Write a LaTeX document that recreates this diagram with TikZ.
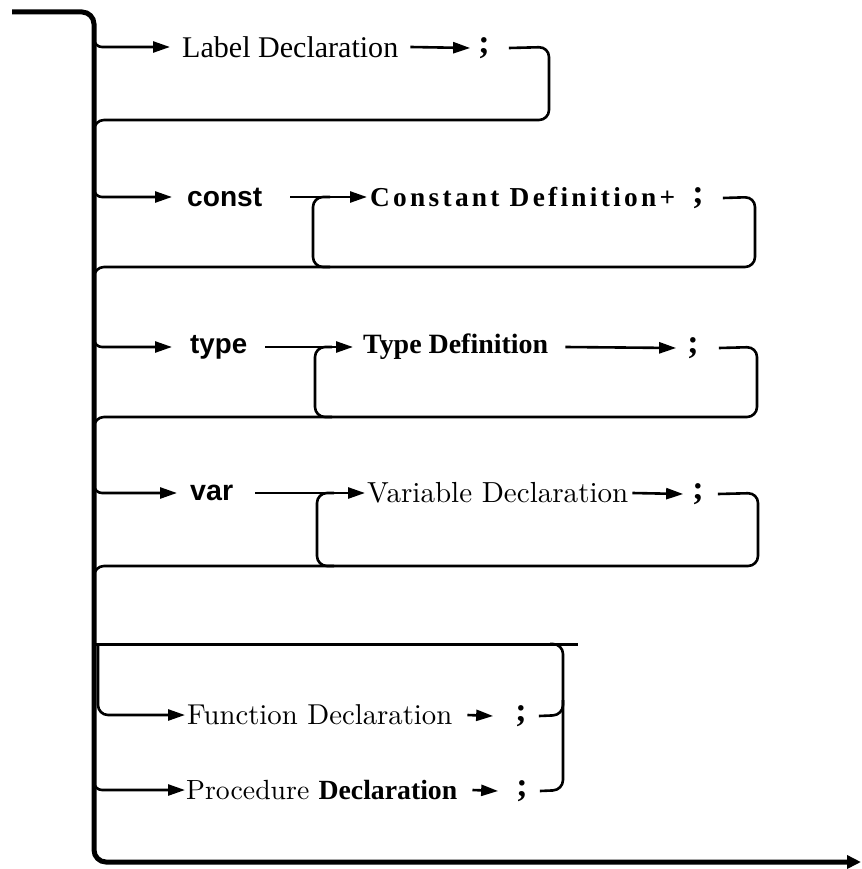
\documentclass[tikz,border=0pt]{standalone}
\usepackage{fontspec}
\usepackage{graphicx}
\usetikzlibrary{arrows.meta}
\newfontfamily\tms{Liberation Serif}
\newfontfamily\tmsls[LetterSpace=12]{Liberation Serif}
\newfontfamily\hlv{Liberation Sans}
\newcommand\fitw[2]{\resizebox{#1pt}{!}{#2}}
\tikzset{
  lbl/.style={inner sep=0pt, anchor=west},
  semi/.style={inner sep=0pt, font=\tms\bfseries\fontsize{34}{36}\selectfont},
  ln/.style={line width=2.6pt, rounded corners=10pt},
  arr/.style={line width=2.6pt, -{Triangle[length=17pt,width=11pt]}},
  mainln/.style={line width=5pt, rounded corners=12pt},
}
\begin{document}
\begin{tikzpicture}[x=1pt,y=-1pt]
\useasboundingbox (0,0) rectangle (861,869);

% ---- Row 1: Label Declaration
\node[lbl] (ld) at (182,47) {\fitw{216}{\tms Label Declaration}};
\node[semi] (s1) at (484,48) {;};
\draw[arr, rounded corners=8pt] (94,35) |- ([xshift=-12pt]ld.west);
\draw[arr] ([xshift=12pt]ld.east) -- ([xshift=-8pt]s1.west);
\draw[ln] ([xshift=19pt]s1.east) -- (549,47) -- (549,120) -- (94,120) -- (94,135);

% ---- Row 2: const
\node[lbl] (kc) at (187,197) {\fitw{75}{\hlv\bfseries const}};
\node[lbl] (cd) at (370,197) {\fitw{305}{\tmsls\bfseries Constant Definition+}};
\node[semi] (s2) at (698,198) {;};
\draw[arr, rounded corners=8pt] (94,185) |- ([xshift=-15pt]kc.west);
\draw[arr] ([xshift=28pt]kc.east) -- ([xshift=-3pt]cd.west);
\draw[ln] ([xshift=19pt]s2.east) -- (755,197) -- (755,267) -- (94,267) -- (94,280);
\draw[ln] (330,267) -- (313,267) -- (313,197) -- (330,197);

% ---- Row 3: type
\node[lbl] (kt) at (190,347) {\fitw{57}{\hlv\bfseries type}};
\node[lbl] (td) at (363,347) {\fitw{185}{\tms\bfseries Type Definition}};
\node[semi] (s3) at (693,348) {;};
\draw[arr, rounded corners=8pt] (94,335) |- ([xshift=-18pt]kt.west);
\draw[arr] ([xshift=18pt]kt.east) -- ([xshift=-10pt]td.west);
\draw[arr] ([xshift=17pt]td.east) -- ([xshift=-11pt]s3.west);
\draw[ln] ([xshift=20pt]s3.east) -- (757,347) -- (757,417) -- (94,417) -- (94,430);
\draw[ln] (332,417) -- (315,417) -- (315,347) -- (332,347);

% ---- Row 4: var
\node[lbl] (kv) at (190,493) {\fitw{43}{\hlv\bfseries var}};
\node[lbl] (vd) at (367,493) {\fitw{261}{Variable Declaration}};
\node[semi] (s4) at (698,494) {;};
\draw[arr, rounded corners=8pt] (94,481) |- ([xshift=-13pt]kv.west);
\draw[arr] ([xshift=22pt]kv.east) -- ([xshift=-2pt]vd.west);
\draw[arr] ([xshift=4pt]vd.east) -- ([xshift=-9pt]s4.west);
\draw[ln] ([xshift=14pt]s4.east) -- (758,493) -- (758,566) -- (94,566) -- (94,580);
\draw[ln] (334,566) -- (317,566) -- (317,493) -- (334,493);

% ---- Row 5: Function / Procedure
\node[lbl] (fd) at (187,715) {\fitw{265}{Function Declaration}};
\node[lbl] (pd) at (186,790) {\fitw{271}{Procedure {\tms\bfseries Declaration}}};
\node[semi] (s5) at (521,716) {;};
\node[semi] (s6) at (522,791) {;};
\draw[line width=3pt] (94,644) -- (578,644);
\draw[arr, rounded corners=10pt] (98,644) |- ([xshift=-2pt]fd.west);
\draw[arr, rounded corners=8pt] (94,778) |- ([xshift=-1pt]pd.west);
\draw[arr] ([xshift=15pt]fd.east) -- ([xshift=-22pt]s5.west);
\draw[arr] ([xshift=15pt]pd.east) -- ([xshift=-18pt]s6.west);
\draw[ln] ([xshift=12pt]s5.east) -- (563,715) -- (563,700);
\draw[ln] ([xshift=12pt]s6.east) -- (563,790) -- (563,644) -- (550,644);

% ---- main line
\coordinate (start) at (12,12);
\coordinate (end) at (861,862);
\draw[mainln, -{Triangle[length=14pt,width=13pt]}] (start) -- (94,12) -- (94,862) -- (end);
\end{tikzpicture}
\end{document}
